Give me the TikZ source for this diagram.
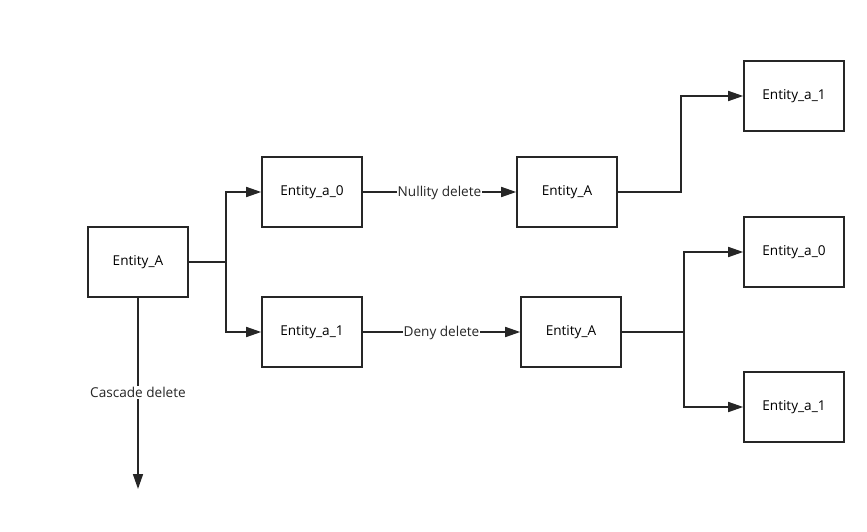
\documentclass[tikz,border=0pt]{standalone}
\usepackage{fontspec}
\setmainfont{Open Sans}
\usepackage{tikz}
\usetikzlibrary{arrows.meta, positioning, calc}

\begin{document}
\begin{tikzpicture}[
    x=1pt, y=-1pt,
    font=\fontsize{13.6}{16}\selectfont,
    >={Triangle[length=15pt, width=10pt]},
    % Node styles
    entitybox/.style={draw=black!85, line width=1.6pt, fill=white, align=center, minimum width=100pt, minimum height=70pt, inner sep=0pt},
    arrow/.style={->, line width=1.6pt, color=black!85},
    line/.style={line width=1.6pt, color=black!85},
    edgelabel/.style={fill=white, inner sep=1pt, text=black!85}
]
\useasboundingbox (0,0) rectangle (867,532);

% ========== ROOT ==========
\node[entitybox] (rootA) at (138, 262) {Entity\_A};

% ========== CHILDREN ==========
\node[entitybox] (childa0) at (312, 192) {Entity\_a\_0};
\node[entitybox] (childa1) at (312, 332) {Entity\_a\_1};

% ========== AFTER DELETE ==========
\node[entitybox] (nullA) at (567, 192) {Entity\_A};
\node[entitybox] (denyA) at (571, 332) {Entity\_A};

% Right column
\node[entitybox] (nulla1) at (794, 96) {Entity\_a\_1};
\node[entitybox] (denya0) at (794, 252) {Entity\_a\_0};
\node[entitybox] (denya1) at (794, 407) {Entity\_a\_1};

% Junctions and cascade end point
\coordinate (rootjoint) at ($(rootA.east)+(37,0)$);
\coordinate (nulljoint) at ($(nullA.east)+(63,0)$);
\coordinate (denyjoint) at ($(denyA.east)+(62,0)$);
\coordinate (cascadeend) at (138, 489);

% ========== ARROWS ==========
% Root to children
\draw[line] (rootA.east) -- (rootjoint);
\draw[arrow] (rootjoint) |- (childa0.west);
\draw[arrow] (rootjoint) |- (childa1.west);

% Cascade
\draw[arrow] (rootA.south) -- node[edgelabel, pos=0.49, yshift=-1pt] {Cascade delete} (cascadeend);

% Delete modes
\draw[arrow] (childa0.east) -- node[edgelabel, pos=0.5, yshift=-1pt] {Nullity delete} (nullA.west);
\draw[arrow] (childa1.east) -- node[edgelabel, pos=0.5, yshift=-1pt] {Deny delete} (denyA.west);

% Nullity result
\draw[arrow] (nullA.east) -- (nulljoint) |- (nulla1.west);

% Deny result
\draw[line] (denyA.east) -- (denyjoint);
\draw[arrow] (denyjoint) |- (denya0.west);
\draw[arrow] (denyjoint) |- (denya1.west);

\end{tikzpicture}
\end{document}
